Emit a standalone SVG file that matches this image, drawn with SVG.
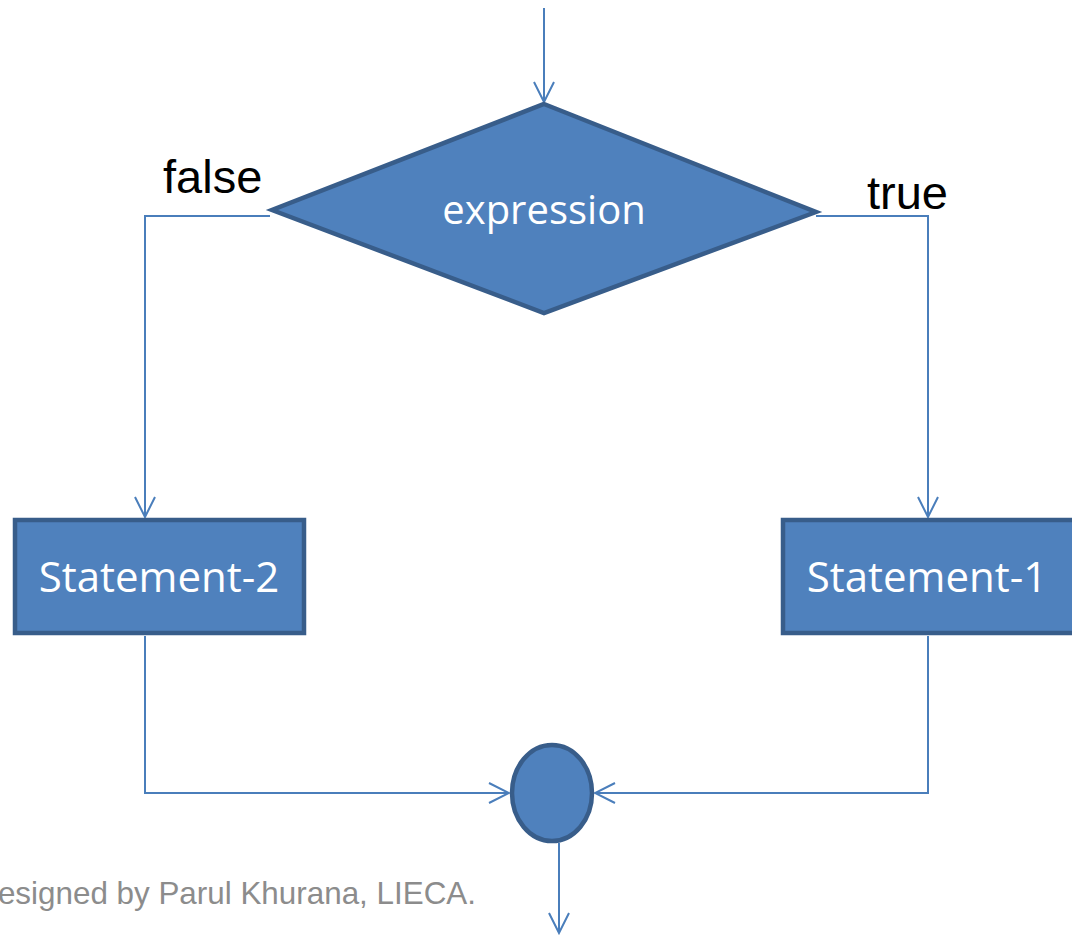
<svg xmlns="http://www.w3.org/2000/svg" width="1072" height="936" viewBox="0 0 1072 936">
<style>
.shape{fill:#4F81BD;stroke:#385D8A;stroke-width:4.5;stroke-linejoin:miter}
.conn{fill:none;stroke:#4A7EBB;stroke-width:2}
.lbl{font-family:"Open Sans",sans-serif;font-size:40px;fill:#ffffff;text-anchor:middle}
.stmt{font-size:42px}
.edge{font-family:"Liberation Sans",Arial,sans-serif;font-size:47px;fill:#000000}
.foot{font-family:"Liberation Sans",Arial,sans-serif;font-size:31.4px;fill:#8C8C8C}
</style>
<defs>
<marker id="arr" viewBox="0 0 24 24" refX="22" refY="12" markerWidth="24" markerHeight="24" markerUnits="userSpaceOnUse" orient="auto">
<path d="M2,2 L22,12 L2,22" fill="none" stroke="#4A7EBB" stroke-width="2"/>
</marker>
</defs>
<rect width="1072" height="936" fill="#ffffff"/>
<g id="connectors">
<line class="conn" x1="544" y1="8" x2="544" y2="102" marker-end="url(#arr)"/>
<polyline class="conn" points="270,216 145,216 145,517" marker-end="url(#arr)"/>
<polyline class="conn" points="816,216 928,216 928,517" marker-end="url(#arr)"/>
<polyline class="conn" points="145,636 145,793 509,793" marker-end="url(#arr)"/>
<polyline class="conn" points="928,636 928,793 595,793" marker-end="url(#arr)"/>
<line class="conn" x1="559" y1="843" x2="559" y2="933" marker-end="url(#arr)"/>
</g>
<g id="decision">
<polygon class="shape" points="544,104 816,212 544,313 272,210"/>
<text class="lbl" x="544" y="224">expression</text>
</g>
<g id="label-false"><text class="edge" x="163" y="193">false</text></g>
<g id="label-true"><text class="edge" x="867" y="209">true</text></g>
<g id="statement2">
<rect class="shape" x="15" y="520" width="289" height="113"/>
<text class="lbl stmt" x="159" y="592">Statement-2</text>
</g>
<g id="statement1">
<rect class="shape" x="783" y="520" width="292" height="113"/>
<text class="lbl stmt" x="927" y="592">Statement-1</text>
</g>
<g id="join">
<ellipse class="shape" cx="552" cy="793" rx="40" ry="48"/>
</g>
<text class="foot" x="476" y="904" text-anchor="end">esigned by Parul Khurana, LIECA.</text>
</svg>
